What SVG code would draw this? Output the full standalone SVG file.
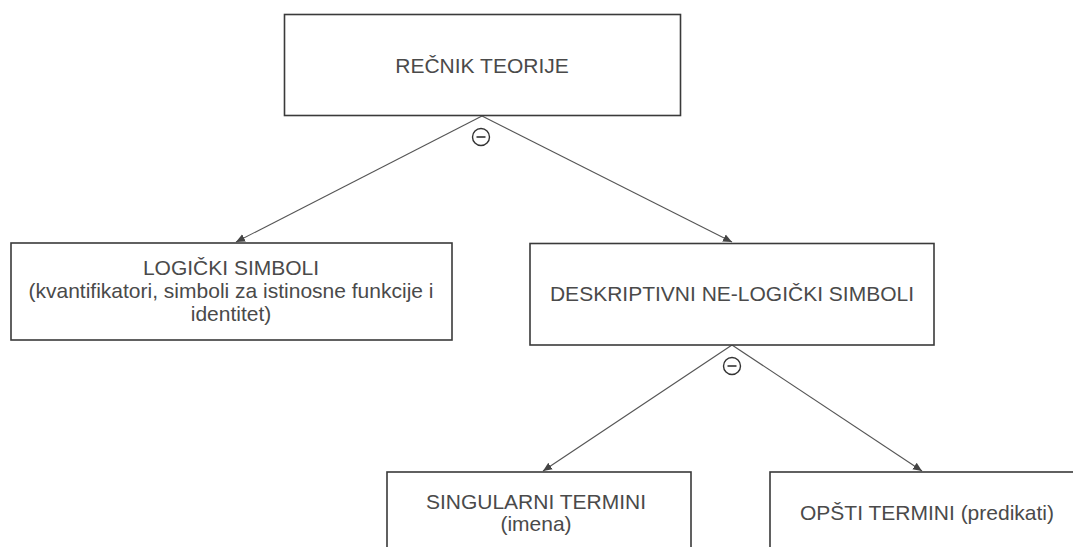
<svg xmlns="http://www.w3.org/2000/svg" width="1073" height="547" viewBox="0 0 1073 547">
<style>
.box{fill:#fff;stroke:#3a3a3a;stroke-width:1.6}
.t{font-family:"Liberation Sans",Arial,sans-serif;font-size:21px;fill:#4a4a4a;text-anchor:middle}
.edge{stroke:#555;stroke-width:1.1;fill:none;marker-end:url(#ah)}
.sym{fill:#fff;stroke:#333;stroke-width:1.4}
.bar{stroke:#333;stroke-width:1.6}
</style>
<defs>
<marker id="ah" markerWidth="10" markerHeight="10" refX="9" refY="5" orient="auto" markerUnits="userSpaceOnUse">
<path d="M0,1 L9,5 L0,9 Z" fill="#444"/>
</marker>
</defs>
<rect width="1073" height="547" fill="#fff"/>
<g id="connectors">
<path class="edge" d="M482,116 L236,242"/>
<path class="edge" d="M482,116 L732,242"/>
<path class="edge" d="M732,345 L543,471"/>
<path class="edge" d="M732,345 L922,471"/>
<g id="op1"><circle class="sym" cx="481" cy="137" r="8.5"/><line class="bar" x1="476.5" y1="137" x2="485.5" y2="137"/></g>
<g id="op2"><circle class="sym" cx="732" cy="366" r="8.5"/><line class="bar" x1="727.5" y1="366" x2="736.5" y2="366"/></g>
</g>
<g id="recnik">
<rect class="box" x="284.5" y="14.5" width="396" height="101"/>
<text class="t" x="482" y="73">REČNIK TEORIJE</text>
</g>
<g id="logicki">
<rect class="box" x="11" y="243" width="441" height="97"/>
<text class="t" x="231" y="275">LOGIČKI SIMBOLI</text>
<text class="t" x="231" y="298">(kvantifikatori, simboli za istinosne funkcije i</text>
<text class="t" x="231" y="321">identitet)</text>
</g>
<g id="deskriptivni">
<rect class="box" x="530" y="243.5" width="404" height="101.5"/>
<text class="t" x="732" y="301">DESKRIPTIVNI NE-LOGIČKI SIMBOLI</text>
</g>
<g id="singularni">
<rect class="box" x="387" y="472" width="304" height="90"/>
<text class="t" x="536" y="509">SINGULARNI TERMINI</text>
<text class="t" x="536" y="531">(imena)</text>
</g>
<g id="opsti">
<rect class="box" x="770" y="472" width="320" height="90"/>
<text class="t" x="927" y="520">OPŠTI TERMINI (predikati)</text>
</g>
</svg>
